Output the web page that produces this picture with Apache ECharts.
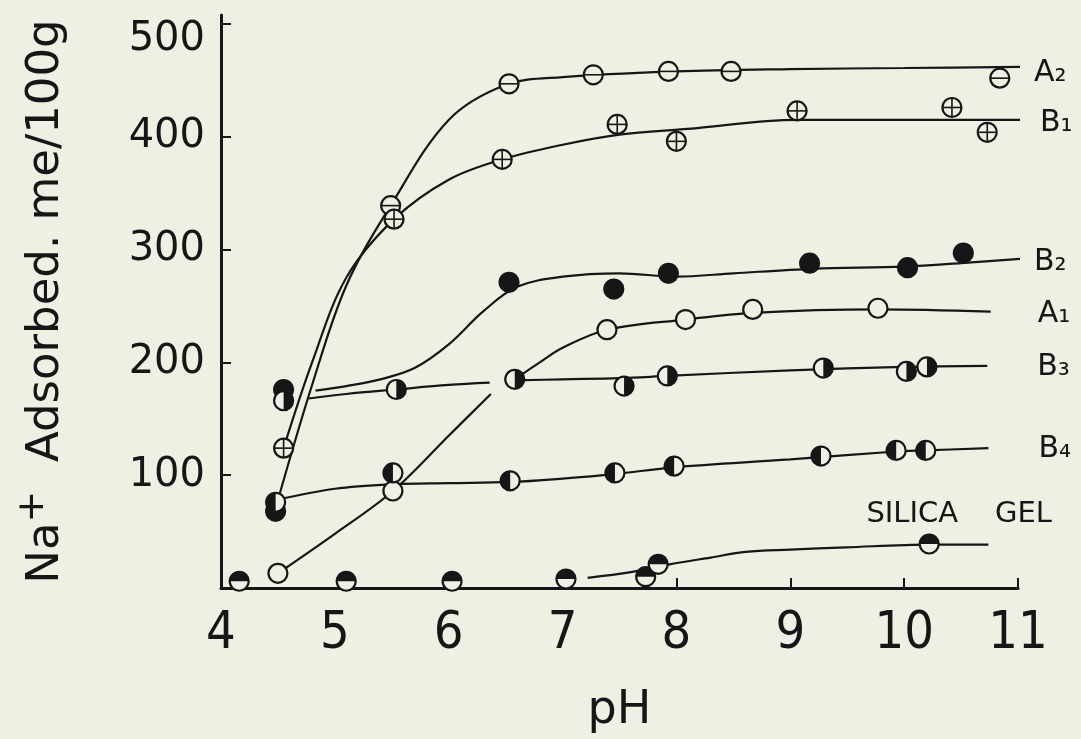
<!DOCTYPE html>
<html>
<head>
<meta charset="utf-8">
<script src="https://cdn.jsdelivr.net/npm/echarts@6/dist/echarts.min.js"></script>
<style>
html,body{margin:0;padding:0;background:#f0efe4;}
#c{width:1081px;height:739px;}
</style>
</head>
<body>
<div id="c"></div>
<script>
// ---------- tick labels ----------
const xTicks = [4, 5, 6, 7, 8, 9, 10, 11];
const xTickMarks = [8, 9, 10, 11];
const yTicks = [100, 200, 300, 400, 500];

// ---------- measured points [pH, Na+ adsorbed me/100g] ----------
const ptsA2 = [[5.49,339],[6.53,447],[7.27,455],[7.93,458],[8.48,458],[10.84,452]];
const ptsB1 = [[4.55,124],[5.52,327],[6.47,380],[7.48,411],[8.00,396],[9.06,423],[10.42,426],[10.73,404]];
const ptsB2 = [[4.48,68],[4.55,176],[6.53,271],[7.45,265],[7.93,279],[9.17,288],[10.03,284],[10.52,297]];
const ptsA1 = [[4.50,13],[5.51,86],[7.39,229],[8.08,238],[8.67,247],[9.77,248]];
const ptsB3 = [[4.55,166],[5.54,176],[6.58,185],[7.54,179],[7.92,188],[9.29,195],[10.02,192],[10.20,196]];
const ptsB4 = [[4.48,76],[5.51,102],[6.54,95],[7.46,102],[7.98,108],[9.27,117],[9.93,122],[10.19,122]];
const ptsSilica = [[4.16,6],[5.10,6],[6.03,6],[7.03,8],[7.73,10],[7.84,21],[10.22,39]];

// ---------- hand-drawn curves ('-' = break in the drawn line) ----------
const curveA2 = [[4.50,78],[4.80,180],[5.10,268],[5.49,339],[6.00,415],[6.50,446],[7.00,453],[8.00,458],[9.00,460],[10.00,461],[11.08,462]];
const curveB1 = [[4.55,124],[4.80,200],[5.10,275],[5.52,327],[6.00,362],[6.47,380],[7.00,393],[7.50,402],[8.10,407],[9.06,415],[10.00,415],[11.03,415]];
const curveB2 = [[4.83,175],[5.10,179],[5.40,185],[5.70,195],[6.00,216],[6.30,245],[6.60,267],[7.00,276],[7.50,279],[8.00,276],[8.50,279],[9.20,283],[10.00,285],[10.50,288],[11.05,292]];
const curveA1 = [[4.50,13],[5.00,48],[5.51,86],[6.00,135],[6.37,172],'-',[6.58,185],[6.80,200],[7.00,213],[7.39,229],[8.08,238],[8.67,244],[9.77,247],[10.76,245]];
const curveB3 = [[4.77,168],[5.10,172],[5.54,176],[6.00,180],[6.36,182],'-',[6.58,184],[7.00,185],[7.50,186],[7.92,188],[9.00,193],[10.00,196],[10.73,197]];
const curveB4 = [[4.48,78],[5.00,88],[5.51,92],[6.00,93],[6.54,94],[7.00,97],[7.46,101],[7.98,107],[9.00,114],[9.93,121],[10.19,122],[10.74,124]];
const curveSilica = [[7.22,9],[7.60,14],[7.94,21],[8.30,27],[8.61,32],[9.00,34],[9.49,36],[10.22,38.5],[10.74,38.5]];

// ---------- labels ----------
const seriesLabels = ['A₂','B₁','B₂','A₁','B₃','B₄','SILICA    GEL'];

const INK = '#161616';
const BG = '#f0efe4';
const R = 9.5;
const FONT = "'DejaVu Sans', 'Noto Sans', sans-serif";

function markerSeries(name, data, kind) {
  return {
    type: 'custom',
    name: name,
    data: data,
    encode: { x: 0, y: 1 },
    clip: false,
    z: 10,
    silent: true,
    renderItem: function (params, api) {
      const p = api.coord([api.value(0), api.value(1)]);
      const cx = p[0], cy = p[1];
      const ch = [{
        type: 'circle',
        shape: { cx: cx, cy: cy, r: R },
        style: { fill: kind === 'filled' ? INK : BG, stroke: INK, lineWidth: 2.2 }
      }];
      const half = function (a0, a1) {
        ch.push({ type: 'sector', shape: { cx: cx, cy: cy, r: R, r0: 0, startAngle: a0, endAngle: a1, clockwise: true }, style: { fill: INK } });
      };
      if (kind === 'right') half(-Math.PI / 2, Math.PI / 2);
      if (kind === 'left') half(Math.PI / 2, Math.PI * 1.5);
      if (kind === 'top') half(Math.PI, Math.PI * 2);
      if (kind === 'minus' || kind === 'plus') {
        ch.push({ type: 'line', shape: { x1: cx - R, y1: cy, x2: cx + R, y2: cy }, style: { stroke: INK, lineWidth: 1.6 } });
      }
      if (kind === 'plus') {
        ch.push({ type: 'line', shape: { x1: cx, y1: cy - R, x2: cx, y2: cy + R }, style: { stroke: INK, lineWidth: 1.6 } });
      }
      return { type: 'group', children: ch };
    }
  };
}

function curveSeries(name, data, label, dx, dy, fontSize) {
  return {
    type: 'line',
    name: name,
    data: data,
    smooth: 0.35,
    symbol: 'none',
    showSymbol: false,
    connectNulls: false,
    clip: false,
    z: 3,
    silent: true,
    lineStyle: { color: INK, width: 2.2 },
    endLabel: {
      show: true,
      formatter: label,
      position: 'right',
      distance: 0,
      offset: [dx, dy],
      color: INK,
      fontFamily: FONT,
      fontSize: fontSize
    }
  };
}

const chart = echarts.init(document.getElementById('c'), null, { renderer: 'canvas' });
chart.setOption({
  backgroundColor: BG,
  animation: false,
  grid: { left: 221, right: 63, top: 15, bottom: 150 },
  xAxis: {
    type: 'value',
    min: 4, max: 11,
    name: 'pH',
    nameLocation: 'middle',
    nameGap: 100,
    nameTextStyle: { color: INK, fontFamily: FONT, fontSize: 46 },
    splitLine: { show: false },
    axisLine: { show: true, onZero: false, lineStyle: { color: INK, width: 3 } },
    axisTick: { show: true, inside: true, length: 10, lineStyle: { color: INK, width: 2 }, customValues: xTickMarks },
    axisLabel: { color: INK, fontFamily: "'Liberation Sans Narrow', 'DejaVu Sans Condensed', 'DejaVu Sans', sans-serif", fontSize: 52, margin: 20, customValues: xTicks }
  },
  yAxis: {
    type: 'value',
    min: 0, max: 508,
    name: '{n|Na}{p|+}{n|  Adsorbed. me/100g}',
    nameLocation: 'middle',
    nameGap: 143,
    nameTextStyle: {
      color: INK, fontFamily: FONT, fontSize: 45,
      rich: {
        n: { color: INK, fontFamily: FONT, fontSize: 45 },
        p: { color: INK, fontFamily: FONT, fontSize: 38, padding: [0, 0, 26, 0] }
      }
    },
    splitLine: { show: false },
    axisLine: { show: true, onZero: false, lineStyle: { color: INK, width: 3 } },
    axisTick: { show: true, inside: true, length: 10, lineStyle: { color: INK, width: 2 }, customValues: yTicks },
    axisLabel: {
      color: INK, fontFamily: FONT, fontSize: 40, margin: 16, customValues: yTicks,
      formatter: function (v) { return v === 500 ? '{low|500}' : String(v); },
      rich: { low: { color: INK, fontFamily: FONT, fontSize: 40, padding: [32, 0, 0, 0] } }
    }
  },
  series: [
    curveSeries('A2 curve', curveA2, seriesLabels[0], 14, 6, 30),
    curveSeries('B1 curve', curveB1, seriesLabels[1], 20, 3, 30),
    curveSeries('B2 curve', curveB2, seriesLabels[2], 14, 3, 30),
    curveSeries('A1 curve', curveA1, seriesLabels[3], 47, 3, 30),
    curveSeries('B3 curve', curveB3, seriesLabels[4], 50, 1, 30),
    curveSeries('B4 curve', curveB4, seriesLabels[5], 50, 1, 30),
    curveSeries('Silica curve', curveSilica, seriesLabels[6], -122, -30, 29),
    markerSeries('A2', ptsA2, 'minus'),
    markerSeries('B1', ptsB1, 'plus'),
    markerSeries('B2', ptsB2, 'filled'),
    markerSeries('A1', ptsA1, 'open'),
    markerSeries('B3', ptsB3, 'right'),
    markerSeries('B4', ptsB4, 'left'),
    markerSeries('Silica gel', ptsSilica, 'top')
  ]
});
</script>
</body>
</html>
